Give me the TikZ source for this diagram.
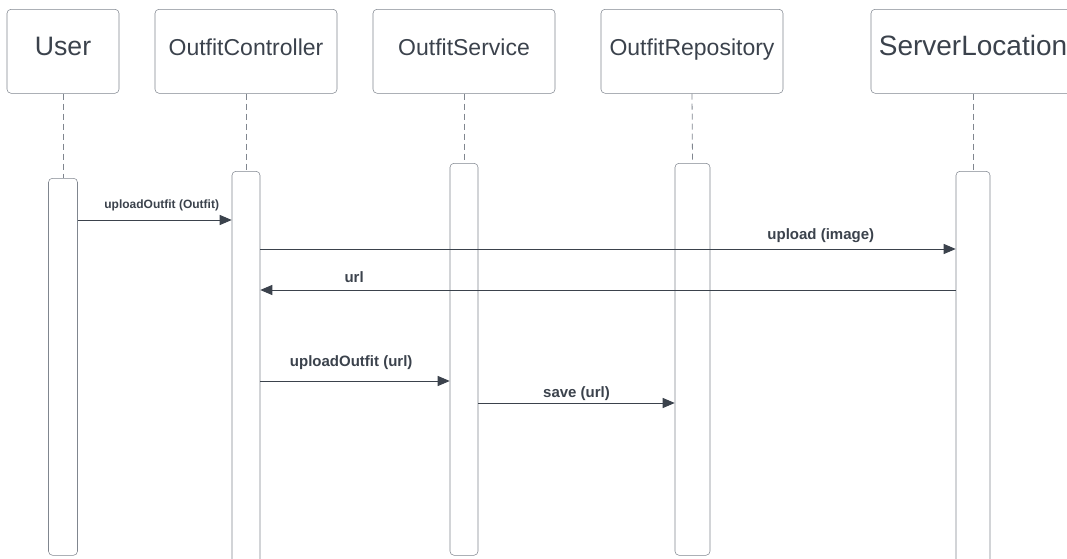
\documentclass[tikz,border=0pt]{standalone}
\usepackage{fontspec}
\setmainfont{Liberation Sans}
\usetikzlibrary{arrows.meta}

\definecolor{ink}{HTML}{3B424C}
\definecolor{edge}{HTML}{80868F}

\tikzset{
  head/.style={draw=edge, rounded corners=3pt, anchor=north, minimum height=63pt, inner sep=0pt,
    text height=.72em, text depth=.1em, text=ink},
  actbar/.style={draw=edge, rounded corners=3pt, anchor=north, inner sep=0pt},
  lifeline/.style={draw=edge, line width=.6pt, dash pattern=on 4.5pt off 3pt},
  msg/.style={draw=ink, line width=.75pt, -{Triangle[length=9pt,width=7.5pt]}},
  lbl/.style={text=ink, font=\bfseries\fontsize{11.25}{13}\selectfont},
}

\begin{document}
\begin{tikzpicture}[x=0.75pt,y=-0.75pt]
\useasboundingbox (0,0) rectangle (1067,558);
\clip (0,0) rectangle (1067,558);

% participants
\node[head, minimum width=84pt, font=\fontsize{20}{24}\selectfont] (user) at (63,9) {User};
\node[head, minimum width=136.5pt, font=\fontsize{17.25}{21}\selectfont] (ctrl) at (246,9) {OutfitController};
\node[head, minimum width=136.5pt, font=\fontsize{17.25}{21}\selectfont] (service) at (464,9) {OutfitService};
\node[head, minimum width=136.5pt, font=\fontsize{17.25}{21}\selectfont] (repo) at (692,9) {OutfitRepository};
\node[head, minimum width=153pt, font=\fontsize{21}{25}\selectfont] (server) at (973,9) {ServerLocation};

% activation bars
\node[actbar, minimum width=21.75pt, minimum height=282.75pt] (userbar) at (63,178) {};
\node[actbar, minimum width=21pt, minimum height=307pt] (ctrlbar) at (246,171) {};
\node[actbar, minimum width=21pt, minimum height=294pt] (servicebar) at (464,163) {};
\node[actbar, minimum width=26.25pt, minimum height=294pt] (repobar) at (692.5,163) {};
\node[actbar, minimum width=25.5pt, minimum height=307pt] (serverbar) at (973,171) {};

% lifelines
\draw[lifeline] (user.south) -- (userbar.north);
\draw[lifeline] (ctrl.south) -- (ctrlbar.north);
\draw[lifeline] (service.south) -- (servicebar.north);
\draw[lifeline] (repo.south) -- (repobar.north);
\draw[lifeline] (server.south) -- (serverbar.north);

% messages
\draw[msg] (userbar.east |- 0,220) -- (ctrlbar.west |- 0,220)
  node[lbl, font=\bfseries\fontsize{9}{11}\selectfont, pos=.545, yshift=11.25pt] {uploadOutfit (Outfit)};
\draw[msg] (ctrlbar.east |- 0,249) -- (serverbar.west |- 0,249)
  node[lbl, pos=.806, yshift=9.75pt] {upload (image)};
\draw[msg] (serverbar.west |- 0,290) -- (ctrlbar.east |- 0,290)
  node[lbl, pos=.865, yshift=9.75pt] {url};
\draw[msg] (ctrlbar.east |- 0,381) -- (servicebar.west |- 0,381)
  node[lbl, pos=.48, yshift=13.5pt] {uploadOutfit (url)};
\draw[msg] (servicebar.east |- 0,403) -- (repobar.west |- 0,403)
  node[lbl, pos=.5, yshift=7pt] {save (url)};
\end{tikzpicture}
\end{document}
